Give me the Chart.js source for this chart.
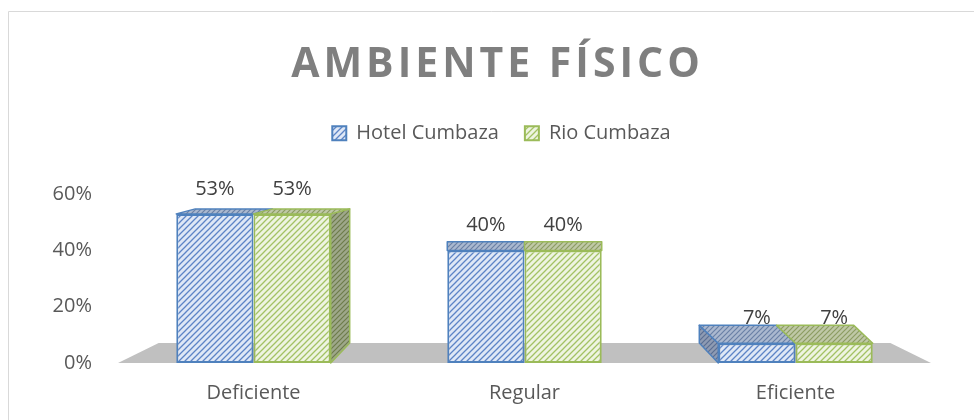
<!DOCTYPE html>
<html>
<head>
<meta charset="utf-8">
<title>Ambiente Físico</title>
<script src="https://cdn.jsdelivr.net/npm/chart.js@4/dist/chart.umd.min.js"></script>
<style>
  html, body { margin: 0; padding: 0; background: #ffffff; overflow: hidden; }
  canvas { display: block; }
</style>
</head>
<body>
<canvas id="c" width="974" height="420"></canvas>
<script>
// ---- data ----
const chartTitle = 'AMBIENTE FÍSICO';
const categories = ['Deficiente', 'Regular', 'Eficiente'];
const seriesNames = ['Hotel Cumbaza', 'Rio Cumbaza'];
const hotelCumbaza = [0.53, 0.40, 0.07];
const rioCumbaza = [0.53, 0.40, 0.07];
const yTicks = [0, 0.2, 0.4, 0.6];

// ---- helpers ----
function makePattern(bg, fg, size, lw) {
  const c = document.createElement('canvas');
  c.width = size; c.height = size;
  const x = c.getContext('2d');
  x.fillStyle = bg; x.fillRect(0, 0, size, size);
  x.strokeStyle = fg; x.lineWidth = lw; x.lineCap = 'square';
  x.beginPath();
  x.moveTo(0, size); x.lineTo(size, 0);
  x.moveTo(-size / 2, size / 2); x.lineTo(size / 2, -size / 2);
  x.moveTo(size / 2, size * 1.5); x.lineTo(size * 1.5, size / 2);
  x.stroke();
  return x.createPattern(c, 'repeat');
}
const pct = v => Math.round(v * 100) + '%';

const blueBorder = '#4f81bd';
const greenBorder = '#9bbb59';
const bluePat = makePattern('#dfe8f6', '#5d84c6', 6, 1.3);
const greenPat = makePattern('#eef4e1', '#a3c264', 6, 1.3);
const blueTop = makePattern('#aab8cf', '#6a80a6', 5, 1.2);
const greenTop = makePattern('#bfc8a6', '#8c9c62', 5, 1.2);
const blueSide = makePattern('#8e9bb3', '#5b6e92', 5, 1.2);
const greenSide = makePattern('#9ea78a', '#6e7c4b', 5, 1.2);
const faceFills = [{ top: blueTop, side: blueSide }, { top: greenTop, side: greenSide }];

// frame around the chart
const framePlugin = {
  id: 'frame',
  beforeDraw(chart) {
    const ctx = chart.ctx;
    ctx.save();
    ctx.strokeStyle = '#d9d9d9';
    ctx.lineWidth = 1;
    ctx.beginPath();
    ctx.moveTo(8.5, chart.height);
    ctx.lineTo(8.5, 11.5);
    ctx.lineTo(chart.width, 11.5);
    ctx.stroke();
    ctx.restore();
  }
};

// extra gap under the legend, letter spacing for the title, small horizontal nudges
const layoutTweaks = {
  id: 'layoutTweaks',
  beforeLayout(chart) {
    const lg = chart.legend;
    if (lg && !lg._gapPatched) {
      const fit = lg.fit.bind(lg);
      lg.fit = function () { fit(); this.height += 41; };
      const ldraw = lg.draw.bind(lg);
      lg.draw = function () {
        const c = this.ctx;
        c.save();
        c.translate(13, 0);
        ldraw();
        c.restore();
      };
      lg._gapPatched = true;
    }
    const tb = chart.titleBlock;
    if (tb && !tb._lsPatched) {
      const draw = tb.draw.bind(tb);
      tb.draw = function () {
        const c = this.ctx;
        c.save();
        c.letterSpacing = '4px';
        c.translate(9, 0);
        draw();
        c.restore();
      };
      tb._lsPatched = true;
    }
  }
};

// 3D look: floor, top faces, side faces, value labels
const depthPlugin = {
  id: 'depth3d',
  geom(chart) {
    const ca = chart.chartArea;
    const vx = (ca.left + ca.right) / 2;
    const vy = ca.top - 0.18 * (ca.bottom - ca.top);
    return { ca, vx, vy };
  },
  beforeDatasetsDraw(chart) {
    const { ca, vx, vy } = this.geom(chart);
    const base = chart.scales.y.getPixelForValue(0);
    const k = 0.9;
    const ctx = chart.ctx;
    ctx.save();
    ctx.fillStyle = '#c0c0c0';
    ctx.beginPath();
    ctx.moveTo(ca.left, base);
    ctx.lineTo(ca.right, base);
    ctx.lineTo(vx + (ca.right - vx) * k, vy + (base - vy) * k);
    ctx.lineTo(vx + (ca.left - vx) * k, vy + (base - vy) * k);
    ctx.closePath();
    ctx.fill();
    ctx.restore();
  },
  afterDatasetsDraw(chart) {
    const { vx, vy } = this.geom(chart);
    const ctx = chart.ctx;
    const xs = chart.scales.x;
    const metas = chart.data.datasets.map((d, j) => chart.getDatasetMeta(j));
    const kd = 0.1;
    ctx.save();
    ctx.lineJoin = 'round';
    categories.forEach((cat, i) => {
      const cc = xs.getPixelForValue(i);
      const dx = (vx - cc) * 0.07;
      // side face
      if (Math.abs(dx) > 1) {
        const j = dx > 0 ? metas.length - 1 : 0;
        const el = metas[j].data[i];
        const ex = dx > 0 ? el.x + el.width / 2 : el.x - el.width / 2;
        const topB = el.y - (el.y - vy) * kd;
        const botB = el.base - (el.base - vy) * kd;
        ctx.fillStyle = faceFills[j].side;
        ctx.strokeStyle = chart.data.datasets[j].borderColor;
        ctx.lineWidth = 1.5;
        ctx.beginPath();
        ctx.moveTo(ex, el.y);
        ctx.lineTo(ex + dx, topB);
        ctx.lineTo(ex + dx, botB);
        ctx.lineTo(ex, el.base);
        ctx.closePath();
        ctx.fill();
        ctx.stroke();
      }
      // top faces
      metas.forEach((m, j) => {
        const el = m.data[i];
        const l = el.x - el.width / 2, r = el.x + el.width / 2;
        const topB = el.y - (el.y - vy) * kd;
        ctx.fillStyle = faceFills[j].top;
        ctx.strokeStyle = chart.data.datasets[j].borderColor;
        ctx.lineWidth = 1.5;
        ctx.beginPath();
        ctx.moveTo(l, el.y);
        ctx.lineTo(r, el.y);
        ctx.lineTo(r + dx, topB);
        ctx.lineTo(l + dx, topB);
        ctx.closePath();
        ctx.fill();
        ctx.stroke();
      });
    });
    // value labels
    ctx.fillStyle = '#404040';
    ctx.font = '20px "Open Sans"';
    ctx.textAlign = 'center';
    ctx.textBaseline = 'middle';
    metas.forEach((m, j) => {
      m.data.forEach((el, i) => {
        ctx.fillText(pct(chart.data.datasets[j].data[i]), el.x, el.y - 25);
      });
    });
    ctx.restore();
  }
};

new Chart(document.getElementById('c'), {
  type: 'bar',
  data: {
    labels: categories,
    datasets: [
      {
        label: seriesNames[0],
        data: hotelCumbaza,
        backgroundColor: bluePat,
        borderColor: blueBorder,
        borderWidth: 2,
        borderSkipped: false,
        barPercentage: 1,
        categoryPercentage: 0.57
      },
      {
        label: seriesNames[1],
        data: rioCumbaza,
        backgroundColor: greenPat,
        borderColor: greenBorder,
        borderWidth: 2,
        borderSkipped: false,
        barPercentage: 1,
        categoryPercentage: 0.57
      }
    ]
  },
  options: {
    responsive: false,
    animation: false,
    devicePixelRatio: 1,
    layout: { padding: { left: 46, right: 43, top: 0, bottom: 0 } },
    plugins: {
      title: {
        display: true,
        text: chartTitle,
        color: '#7f7f7f',
        font: { family: 'Open Sans', size: 41, weight: 'bold', lineHeight: 1.2 },
        padding: { top: 41, bottom: 7 }
      },
      legend: {
        display: true,
        position: 'top',
        labels: {
          boxWidth: 14,
          boxHeight: 14,
          padding: 26,
          color: '#595959',
          font: { family: 'Open Sans', size: 20 }
        }
      },
      tooltip: { enabled: false }
    },
    scales: {
      x: {
        grid: { display: false, drawTicks: false },
        border: { display: false },
        ticks: {
          color: '#595959',
          font: { family: 'Open Sans', size: 20 },
          padding: 18,
          maxRotation: 0
        },
        afterFit: s => { s.height = 57; }
      },
      y: {
        min: 0,
        max: 0.6,
        grid: { display: false, drawTicks: false },
        border: { display: false },
        ticks: {
          color: '#595959',
          font: { family: 'Open Sans', size: 20 },
          padding: 26,
          callback: v => pct(v)
        },
        afterBuildTicks: s => { s.ticks = yTicks.map(v => ({ value: v })); },
        afterFit: s => { s.width = 72; }
      }
    }
  },
  plugins: [framePlugin, layoutTweaks, depthPlugin]
});
</script>
</body>
</html>
